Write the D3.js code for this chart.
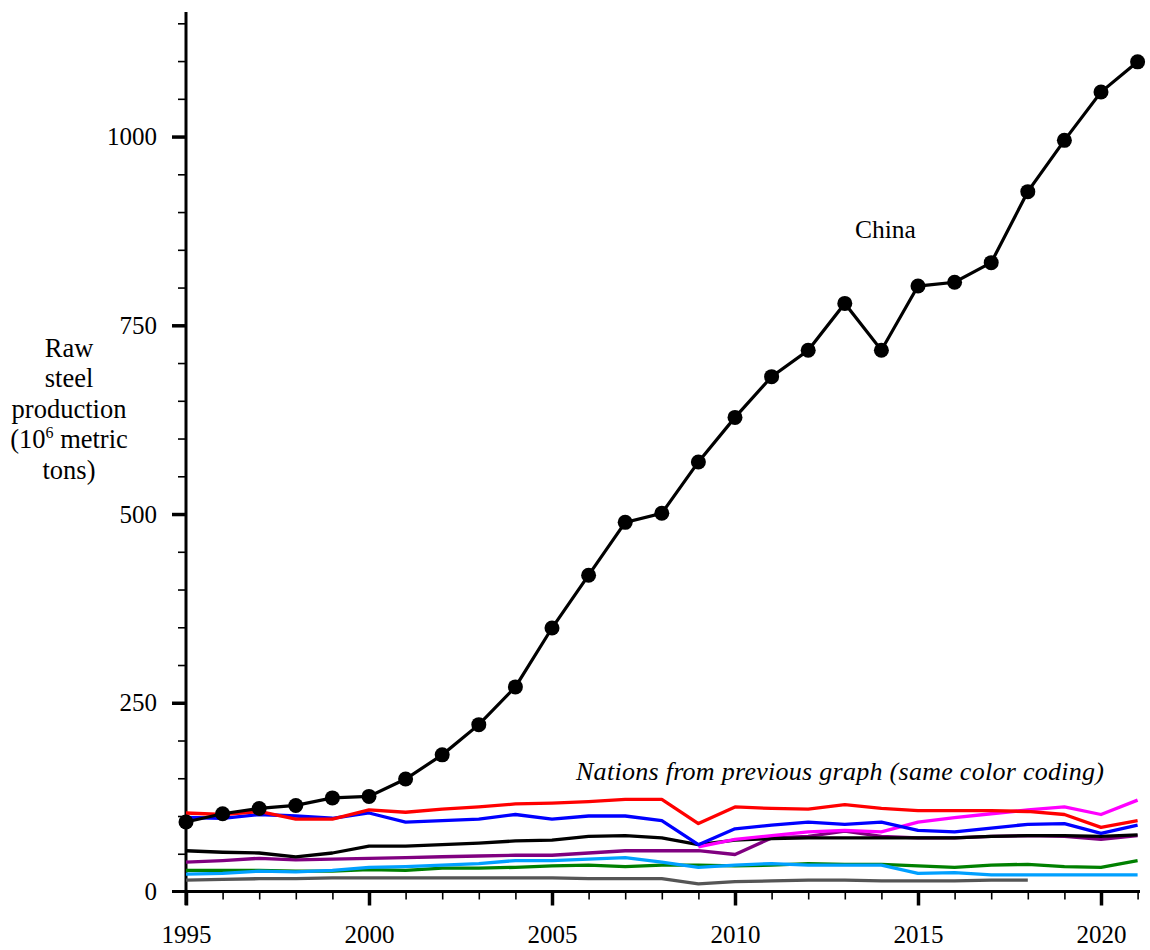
<!DOCTYPE html>
<html>
<head>
<meta charset="utf-8">
<script src="https://cdn.jsdelivr.net/npm/d3@7"></script>
<style>
  html, body { margin: 0; padding: 0; background: #fff; }
  svg { display: block; font-family: "Liberation Serif", "Times New Roman", serif; }
</style>
</head>
<body>
<svg id="chart" width="1150" height="950"></svg>
<script>
const years = [1995,1996,1997,1998,1999,2000,2001,2002,2003,2004,2005,2006,2007,2008,2009,2010,2011,2012,2013,2014,2015,2016,2017,2018,2019,2020,2021];

const china   = [92,103,110,114,124,126,149,181,221,271,349,419,489,501,569,628,682,717,779,717,802,807,833,927,995,1059,1099];
const red     = [104,102,106,96,96,108,105,109,112,116,117,119,122,122,90,112,110,109,115,110,107,107,107,106,102,85,94];
const blue    = [98,97,102,100,97,104,92,94,96,102,96,100,100,94,62,83,88,92,89,92,81,79,84,89,90,77,88];
const black   = [54,52,51,46,51,60,60,62,64,67,68,73,74,71,62,68,70,71,71,71,71,71,73,74,74,73,75];
const purple  = [39,41,44,42,43,44,45,46,47,48,48,51,54,54,54,49,71,73,80,73,71,71,73,74,73,69,74];
const magenta = [null,null,null,null,null,null,null,null,null,null,null,null,null,null,59,69,74,79,81,79,92,98,103,108,112,102,121];
const green   = [28,28,28,27,27,29,28,31,31,32,34,35,33,35,35,34,35,37,36,36,34,32,35,36,33,32,41];
const ltblue  = [23,24,27,26,28,32,33,35,37,41,41,43,45,39,32,35,37,35,35,35,24,25,22,22,22,22,22];
const gray    = [15,16,17,17,18,18,18,18,18,18,18,17,17,17,10,13,14,15,15,14,14,14,15,15,null,null,null];

const otherSeries = [
  {name: "gray",    values: gray,    color: "#555555"},
  {name: "green",   values: green,   color: "#008000"},
  {name: "ltblue",  values: ltblue,  color: "#00a0ff"},
  {name: "purple",  values: purple,  color: "#800080"},
  {name: "black",   values: black,   color: "#000000"},
  {name: "magenta", values: magenta, color: "#ff00ff"},
  {name: "blue",    values: blue,    color: "#0000ff"},
  {name: "red",     values: red,     color: "#ff0000"}
];

const majorYTicks = [0, 250, 500, 750, 1000];
const minorYTicks = [50,100,150,200,300,350,400,450,550,600,650,700,800,850,900,950,1050,1100,1150];
const majorXTicks = [1995, 2000, 2005, 2010, 2015, 2020];
const yLabelLines = ["Raw", "steel", "production", "(10|6| metric", "tons)"];

const svg = d3.select("#chart");
const x = d3.scaleLinear().domain([1995, 2021]).range([186, 1137.6]);
const y = d3.scaleLinear().domain([0, 1165]).range([891.5, 12]);

// axes lines
svg.append("line").attr("x1", 186).attr("x2", 186).attr("y1", 12).attr("y2", 905)
  .attr("stroke", "#000").attr("stroke-width", 3);
svg.append("line").attr("x1", 172).attr("x2", 1140).attr("y1", y(0)).attr("y2", y(0))
  .attr("stroke", "#000").attr("stroke-width", 3);

// Y axis ticks
const yMajor = svg.append("g").attr("transform", "translate(186,0)")
  .call(d3.axisLeft(y).tickValues(majorYTicks.filter(d => d > 0)).tickSize(14).tickPadding(15).tickFormat(d3.format("d")));
yMajor.select(".domain").remove();
yMajor.selectAll(".tick line").attr("stroke-width", 3.5);
yMajor.selectAll(".tick text").attr("font-size", 25).attr("font-family", "Liberation Serif").attr("fill", "#000");

svg.append("text").attr("x", 157).attr("y", y(0)).attr("dy", "0.35em").attr("text-anchor", "end")
  .attr("font-size", 25).text("0");

const yMinor = svg.append("g").attr("transform", "translate(186,0)")
  .call(d3.axisLeft(y).tickValues(minorYTicks).tickSize(8).tickFormat(""));
yMinor.select(".domain").remove();
yMinor.selectAll(".tick line").attr("stroke-width", 1.6);

// X axis ticks
const xMajor = svg.append("g").attr("transform", `translate(0,${y(0)})`)
  .call(d3.axisBottom(x).tickValues(majorXTicks).tickSize(14).tickPadding(20).tickFormat(d3.format("d")));
xMajor.select(".domain").remove();
xMajor.selectAll(".tick line").attr("stroke-width", 3.5);
xMajor.selectAll(".tick text").attr("font-size", 25).attr("font-family", "Liberation Serif").attr("fill", "#000");

const xMinor = svg.append("g").attr("transform", `translate(0,${y(0)})`)
  .call(d3.axisBottom(x).tickValues(years.filter(d => majorXTicks.indexOf(d) < 0)).tickSize(8).tickFormat(""));
xMinor.select(".domain").remove();
xMinor.selectAll(".tick line").attr("stroke-width", 1.6);

// Lines
const line = d3.line()
  .defined(d => d[1] !== null)
  .x(d => x(d[0]))
  .y(d => y(d[1]));

otherSeries.forEach(s => {
  svg.append("path")
    .datum(years.map((yr, i) => [yr, s.values[i]]))
    .attr("fill", "none")
    .attr("stroke", s.color)
    .attr("stroke-width", 3.3)
    .attr("stroke-linejoin", "round")
    .attr("d", line);
});

const chinaData = years.map((yr, i) => [yr, china[i]]);
svg.append("path").datum(chinaData)
  .attr("fill", "none").attr("stroke", "#000").attr("stroke-width", 3.2)
  .attr("d", line);
svg.append("g").selectAll("circle").data(chinaData).join("circle")
  .attr("cx", d => x(d[0])).attr("cy", d => y(d[1])).attr("r", 7.5).attr("fill", "#000");

// Annotations
svg.append("text").attr("x", 855).attr("y", 238).attr("font-size", 25.5).text("China");
svg.append("text").attr("x", 576).attr("y", 780).attr("font-size", 26).attr("font-style", "italic")
  .attr("textLength", 528).attr("lengthAdjust", "spacing")
  .text("Nations from previous graph (same color coding)");

// Y label
const yl = svg.append("g").attr("font-size", 26.5).attr("text-anchor", "middle");
yLabelLines.forEach((ln, i) => {
  const t = yl.append("text").attr("x", 69).attr("y", 356.5 + i * 30.6);
  if (ln.indexOf("|") >= 0) {
    const parts = ln.split("|");
    t.append("tspan").text(parts[0]);
    t.append("tspan").attr("font-size", 16).attr("dy", -10).text(parts[1]);
    t.append("tspan").attr("dy", 10).text(parts[2]);
  } else {
    t.text(ln);
  }
});
</script>
</body>
</html>
